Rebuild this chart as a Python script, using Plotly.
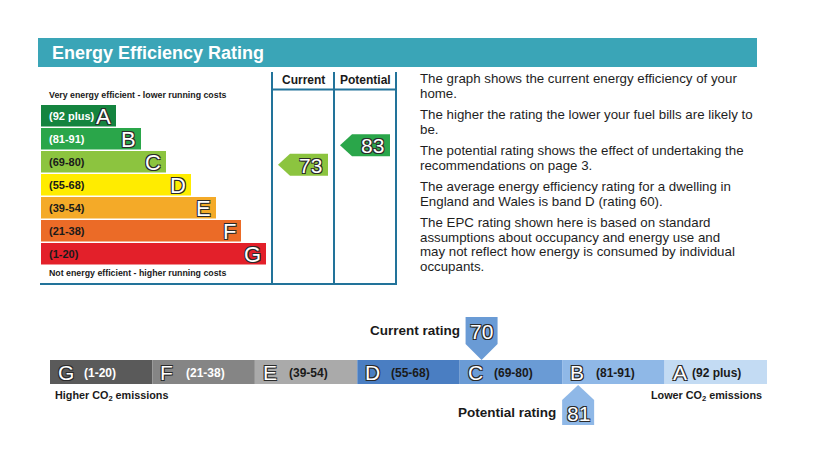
import plotly.graph_objects as go

# ---------------- data ----------------
bands = ["A", "B", "C", "D", "E", "F", "G"]
band_ranges = ["(92 plus)", "(81-91)", "(69-80)", "(55-68)", "(39-54)", "(21-38)", "(1-20)"]
band_low = [92, 81, 69, 55, 39, 21, 1]
band_high = [100, 91, 80, 68, 54, 38, 20]
band_colors = ["#14843f", "#2aa64a", "#8cc43f", "#ffec00", "#f4aa28", "#eb6b27", "#e3202a"]
band_text_colors = ["white", "white", "#1a1a1a", "#1a1a1a", "#1a1a1a", "#1a1a1a", "#1a1a1a"]

current_rating = 73
potential_rating = 83

co2_bands = ["G", "F", "E", "D", "C", "B", "A"]
co2_ranges = ["(1-20)", "(21-38)", "(39-54)", "(55-68)", "(69-80)", "(81-91)", "(92 plus)"]
co2_low = [1, 21, 39, 55, 69, 81, 92]
co2_high = [20, 38, 54, 68, 80, 91, 100]
co2_colors = ["#5a5a5a", "#858585", "#aaaaaa", "#4a7ec2", "#6a9bd5", "#8fb8e7", "#c3dbf3"]
co2_text_colors = ["white", "white", "#1a1a1a", "#1a1a1a", "#1a1a1a", "#1a1a1a", "#1a1a1a"]

co2_current = 70
co2_potential = 81

info_paragraphs = [
    ["The graph shows the current energy efficiency of your", "home."],
    ["The higher the rating the lower your fuel bills are likely to", "be."],
    ["The potential rating shows the effect of undertaking the", "recommendations on page 3."],
    ["The average energy efficiency rating for a dwelling in", "England and Wales is band D (rating 60)."],
    ["The EPC rating shown here is based on standard",
     "assumptions about occupancy and energy use and",
     "may not reflect how energy is consumed by individual",
     "occupants."],
]

# ---------------- layout constants ----------------
W, H = 824, 476
PAGE_MARGIN = 8  # browser default body margin
FONT = "Liberation Sans, Arial, sans-serif"
LINE_COL = "#22739a"
TEAL = "#3aa5b7"
OUTLINE = "-1px -1px 0 #2a2a2a, 1px -1px 0 #2a2a2a, -1px 1px 0 #2a2a2a, 1px 1px 0 #2a2a2a"

row_top0, row_pitch, row_h = 105, 23, 21.5
bar_x0, bar_len0, bar_step = 41, 75, 25
col_x = [272, 334, 396]
box_bottom = 284

co2_x0, co2_x1 = 50, 767
co2_y0, co2_y1 = 360, 384
seg_w = (co2_x1 - co2_x0) / len(co2_bands)

fig = go.Figure()
shapes = []
ann = []

# header bar
shapes.append(dict(type="rect", x0=38, x1=757, y0=38, y1=67, fillcolor=TEAL, line_width=0, layer="below"))
ann.append(dict(x=50, y=52.5, text="<b>Energy Efficiency Rating</b>", xanchor="left", yanchor="middle",
                font=dict(family=FONT, size=18, color="white")))

# top bands
row_c = [row_top0 + i * row_pitch + row_h / 2 for i in range(len(bands))]
lengths = [bar_len0 + bar_step * i for i in range(len(bands))]
fig.add_trace(go.Bar(orientation="h", y=row_c, x=lengths, base=bar_x0, width=row_h,
                     marker=dict(color=band_colors, line_width=0), hoverinfo="skip", showlegend=False))
for i, b in enumerate(bands):
    ann.append(dict(x=bar_x0 + 6, y=row_c[i] + 0.5, text="<b>%s</b>" % band_ranges[i], xanchor="left",
                    yanchor="middle", font=dict(family=FONT, size=11, color=band_text_colors[i])))
    ann.append(dict(x=bar_x0 + lengths[i] - 3, y=row_c[i] + 0.5, text=b, xanchor="right", yanchor="middle",
                    font=dict(family=FONT, size=22, color="white", shadow=OUTLINE)))

ann.append(dict(x=47, y=95, text="<b>Very energy efficient - lower running costs</b>", xanchor="left",
                yanchor="middle", font=dict(family=FONT, size=8.8, color="#1a1a1a")))
ann.append(dict(x=47, y=273, text="<b>Not energy efficient - higher running costs</b>", xanchor="left",
                yanchor="middle", font=dict(family=FONT, size=8.8, color="#1a1a1a")))

# column frame lines
for cx in col_x:
    shapes.append(dict(type="line", x0=cx, x1=cx, y0=72, y1=box_bottom + 1, line=dict(color=LINE_COL, width=2)))
shapes.append(dict(type="line", x0=col_x[0], x1=col_x[2], y0=89.5, y1=89.5, line=dict(color=LINE_COL, width=2)))
shapes.append(dict(type="line", x0=40, x1=col_x[2] + 1, y0=box_bottom, y1=box_bottom, line=dict(color=LINE_COL, width=2)))
ann.append(dict(x=(col_x[0] + col_x[1]) / 2, y=80, text="<b>Current</b>", xanchor="center", yanchor="middle",
                font=dict(family=FONT, size=12, color="#1a1a1a")))
ann.append(dict(x=(col_x[1] + col_x[2]) / 2, y=80, text="<b>Potential</b>", xanchor="center", yanchor="middle",
                font=dict(family=FONT, size=12, color="#1a1a1a")))


def band_index(v, lows, highs):
    for i, (lo, hi) in enumerate(zip(lows, highs)):
        if lo <= v <= hi:
            return i
    return 0


def rating_arrow(v, col_left, col_right):
    i = band_index(v, band_low, band_high)
    bottom = row_top0 + i * row_pitch + row_h
    yc = bottom - (v - band_low[i]) / (band_high[i] - band_low[i]) * row_h
    tip = col_left + 6
    right = col_right - 6
    hh = 11
    xs = [tip, tip + 12, right, right, tip + 12, tip]
    ys = [yc, yc - hh, yc - hh, yc + hh, yc + hh, yc]
    fig.add_trace(go.Scatter(x=xs, y=ys, fill="toself", fillcolor=band_colors[i], mode="lines",
                             line=dict(width=0, color=band_colors[i]), hoverinfo="skip", showlegend=False))
    ann.append(dict(x=(tip + 12 + right) / 2 + 1, y=yc + 0.5, text=str(v), xanchor="center", yanchor="middle",
                    font=dict(family=FONT, size=21, color="white", shadow=OUTLINE)))


rating_arrow(current_rating, col_x[0], col_x[1])
rating_arrow(potential_rating, col_x[1], col_x[2])

# info text
y_line = 78.5
for para in info_paragraphs:
    for k, line in enumerate(para):
        ann.append(dict(x=418, y=y_line, text=line, xanchor="left", yanchor="middle",
                        font=dict(family=FONT, size=13.3, color="#1e1e1e")))
        y_line += 14.6
    y_line += 21.4 - 14.6

# CO2 bar
co2_c = (co2_y0 + co2_y1) / 2
seg_starts = [co2_x0 + i * seg_w for i in range(len(co2_bands))]
fig.add_trace(go.Bar(orientation="h", y=[co2_c] * len(co2_bands), x=[seg_w] * len(co2_bands), base=seg_starts,
                     width=co2_y1 - co2_y0, marker=dict(color=co2_colors, line_width=0),
                     hoverinfo="skip", showlegend=False))
for i, b in enumerate(co2_bands):
    ann.append(dict(x=seg_starts[i] + 6, y=co2_c + 0.5, text=b, xanchor="left", yanchor="middle",
                    font=dict(family=FONT, size=21, color="white", shadow=OUTLINE)))
    ann.append(dict(x=seg_starts[i] + (25 if b == "A" else 32), y=co2_c + 0.5, text="<b>%s</b>" % co2_ranges[i],
                    xanchor="left", yanchor="middle", font=dict(family=FONT, size=12, color=co2_text_colors[i])))

ann.append(dict(x=53, y=396, text="<b>Higher CO<sub>2</sub> emissions</b>", xanchor="left", yanchor="middle",
                font=dict(family=FONT, size=10.8, color="#1a1a1a")))
ann.append(dict(x=764, y=396, text="<b>Lower CO<sub>2</sub> emissions</b>", xanchor="right", yanchor="middle",
                font=dict(family=FONT, size=10.8, color="#1a1a1a")))


def co2_marker(v, label, above):
    i = band_index(v, co2_low, co2_high)
    bw = 32
    c = seg_starts[i] + bw / 2 + (v - co2_low[i]) / (co2_high[i] - co2_low[i] + 1) * (seg_w - bw)
    if above:
        xs = [c - bw / 2, c + bw / 2, c + bw / 2, c, c - bw / 2, c - bw / 2]
        ys = [317, 317, 344, co2_y0, 344, 317]
        ty = 331
    else:
        xs = [c - bw / 2, c, c + bw / 2, c + bw / 2, c - bw / 2, c - bw / 2]
        ys = [400, co2_y1 + 1, 400, 425, 425, 400]
        ty = 413
    fig.add_trace(go.Scatter(x=xs, y=ys, fill="toself", fillcolor=co2_colors[i], mode="lines",
                             line=dict(width=0, color=co2_colors[i]), hoverinfo="skip", showlegend=False))
    ann.append(dict(x=c, y=ty + 0.5, text=str(v), xanchor="center", yanchor="middle",
                    font=dict(family=FONT, size=21, color="white", shadow=OUTLINE)))
    ann.append(dict(x=c - bw / 2 - 4, y=ty - 1, text="<b>%s</b>" % label, xanchor="right", yanchor="middle",
                    font=dict(family=FONT, size=13.5, color="#1a1a1a")))


co2_marker(co2_current, "Current rating", True)
co2_marker(co2_potential, "Potential rating", False)

for a in ann:
    a.update(showarrow=False, xref="x", yref="y")

fig.update_layout(
    width=W - PAGE_MARGIN, height=H - PAGE_MARGIN, margin=dict(l=0, r=0, t=0, b=0),
    paper_bgcolor="white", plot_bgcolor="white",
    barmode="overlay", showlegend=False,
    xaxis=dict(range=[PAGE_MARGIN, W], visible=False, fixedrange=True),
    yaxis=dict(range=[H, PAGE_MARGIN], visible=False, fixedrange=True),
    shapes=shapes, annotations=ann,
)

fig.write_html("out.html", config={"displayModeBar": False})
